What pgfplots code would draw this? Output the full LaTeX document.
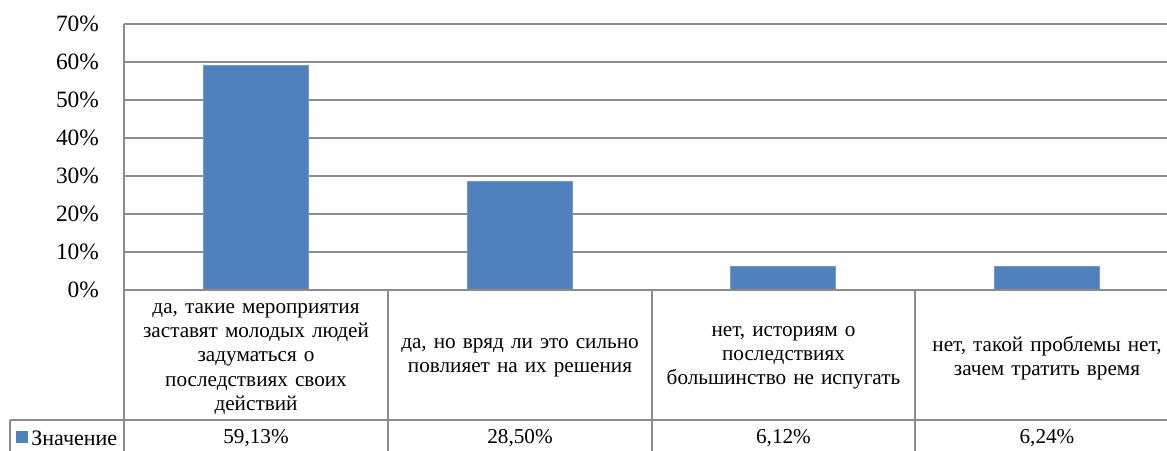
\documentclass[border=0pt]{standalone}
\usepackage{pgfplots}
\pgfplotsset{compat=1.18}
\usepackage{fontspec}
\setmainfont{Liberation Serif}
\definecolor{barblue}{HTML}{4F81BD}
\definecolor{gridgray}{HTML}{8C8C8C}
\begin{document}
\begin{tikzpicture}
\begin{axis}[
  at={(62pt,-145pt)}, anchor=south west,
  scale only axis,
  width=527.5pt, height=133pt,
  xmin=0, xmax=4, ymin=0, ymax=70,
  ytick={0,10,...,70},
  yticklabel={\pgfmathprintnumber{\tick}\%},
  /pgf/number format/assume math mode=true,
  yticklabel style={font=\fontsize{11.7}{13}\selectfont, xshift=-9pt},
  xtick=\empty,
  major tick length=0pt,
  ymajorgrids,
  grid style={gridgray, line width=1pt},
  axis x line=none,
  axis y line*=left,
  y axis line style={gridgray, line width=1pt, -},
  ybar, bar width=52.5pt,
  clip=false,
]
\addplot[fill=barblue, draw=barblue!80!white, line width=0.5pt] coordinates {
  (0.5,59.13) (1.5,28.50) (2.5,6.12) (3.5,6.24)};
\draw[gridgray, line width=1pt] (axis cs:0,0) -- (axis cs:4,0);
\end{axis}
\begin{scope}[x=0.5pt,y=-0.5pt]
\begin{scope}[gridgray, line width=1pt]
  \draw (10,420) -- (1179,420);
  \draw (10,420) -- (10,452);
  \foreach \xx in {124,388,652,915} { \draw (\xx,290) -- (\xx,452); }
\end{scope}
\begin{scope}[every node/.style={font=\fontsize{10.6}{12.1}\selectfont, align=center, text width=125pt, inner sep=0pt}]
  \node at (256,359) {да, такие мероприятия\\заставят молодых людей\\задуматься о\\последствиях своих\\действий};
  \node at (520,358) {да, но вряд ли это сильно\\повлияет на их решения};
  \node at (783.5,358) {нет, историям о\\последствиях\\большинство не испугать};
  \node at (1047,358) {нет, такой проблемы нет,\\зачем тратить время};
  \node at (256,438) {59,13\%};
  \node at (520,438) {28,50\%};
  \node at (783.5,438) {6,12\%};
  \node at (1047,438) {6,24\%};
\end{scope}
\fill[barblue] (16,431) rectangle (28,443);
\node[font=\fontsize{11}{12}\selectfont, anchor=west, inner sep=0pt] at (31,438) {Значение};
\pgfresetboundingbox
\useasboundingbox (0,0) rectangle (1167,450);
\end{scope}
\end{tikzpicture}
\end{document}
